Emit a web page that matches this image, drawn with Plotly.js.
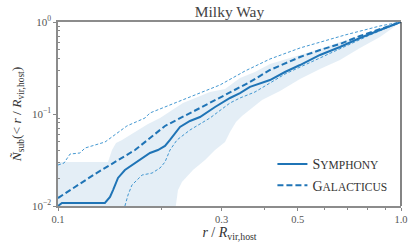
<!DOCTYPE html>
<html>
<head>
<meta charset="utf-8">
<script src="https://cdn.plot.ly/plotly-3.0.1.min.js"></script>
<style>html,body{margin:0;padding:0;background:#fff;}#plot{width:415px;height:249px;}</style>
</head>
<body>
<div id="plot"></div>
<script>
// Symphony median
const symR = [0.1, 0.1027, 0.137, 0.1418, 0.1447, 0.1496, 0.1567, 0.1677, 0.1793, 0.1854, 0.1956, 0.2051, 0.2121, 0.2268, 0.2425, 0.2594, 0.287, 0.3173, 0.3393, 0.3628, 0.415, 0.459, 0.5077, 0.5805, 0.6637, 0.7593, 0.8683, 1.0];
const symN = [0.0100, 0.0108, 0.0108, 0.01253, 0.0149, 0.0202, 0.0246, 0.0293, 0.0341, 0.0377, 0.0406, 0.0449, 0.0522, 0.0722, 0.0839, 0.0928, 0.1192, 0.1493, 0.169, 0.197, 0.234, 0.286, 0.3407, 0.438, 0.535, 0.670, 0.819, 1.0];

// Galacticus median
const galR = [0.1, 0.1282, 0.1677, 0.2051, 0.2594, 0.3628, 0.415, 0.5077, 0.5805, 0.6637, 0.7593, 0.8683, 1.0];
const galN = [0.0122, 0.0223, 0.0406, 0.0741, 0.1162, 0.2228, 0.301, 0.4164, 0.496, 0.5766, 0.7044, 0.839, 1.0];

// Galacticus upper percentile (thin dashed)
const galHiR = [0.1, 0.1041, 0.1084, 0.1159, 0.1199, 0.1256, 0.1371, 0.1588, 0.1793, 0.1854, 0.2051, 0.2594, 0.2968, 0.3509, 0.415, 0.5077, 0.5805, 0.6866, 0.8683, 1.0];
const galHiN = [0.0279, 0.0293, 0.0367, 0.0377, 0.0427, 0.0449, 0.0496, 0.0741, 0.0905, 0.1026, 0.1192, 0.169, 0.207, 0.2933, 0.396, 0.522, 0.606, 0.7222, 0.905, 1.0];

// Galacticus lower percentile (thin dashed)
const galLoR = [0.1567, 0.16, 0.1643, 0.1758, 0.188, 0.1984, 0.2051, 0.2121, 0.2223, 0.2425, 0.2774, 0.3173, 0.3393, 0.3752, 0.459, 0.5077, 0.6637, 0.8121, 1.0];
const galLoN = [0.0100, 0.01317, 0.0169, 0.0217, 0.0228, 0.0259, 0.0301, 0.0406, 0.0522, 0.067, 0.0905, 0.1317, 0.1493, 0.1734, 0.2721, 0.3243, 0.5086, 0.7222, 1.0];

// Symphony scatter band
const bandHiR = [0.1, 0.1399, 0.1437, 0.1476, 0.1537, 0.1677, 0.183, 0.1984, 0.2149, 0.2314, 0.2774, 0.3069, 0.3393, 0.3752, 0.415, 0.5077, 0.5805, 0.6637, 0.7593, 0.8683, 1.0];
const bandHiN = [0.0301, 0.0301, 0.0406, 0.0484, 0.0522, 0.0637, 0.0779, 0.0905, 0.1105, 0.1317, 0.173, 0.1869, 0.2462, 0.286, 0.3496, 0.438, 0.5086, 0.606, 0.7044, 0.839, 1.0];
const bandLoR = [0.1, 0.2149, 0.2238, 0.2298, 0.2475, 0.2683, 0.287, 0.3069, 0.3173, 0.3303, 0.3439, 0.3628, 0.3934, 0.4438, 0.4747, 0.5077, 0.5805, 0.6637, 0.7593, 0.8683, 1.0];
const bandLoN = [0.005, 0.005, 0.0149, 0.0182, 0.0246, 0.0316, 0.0406, 0.0496, 0.0637, 0.0818, 0.0951, 0.1105, 0.142, 0.1778, 0.207, 0.2401, 0.3084, 0.3863, 0.522, 0.687, 1.0];

const xTickVals = [0.1, 0.3, 0.5, 1.0];
const xTickText = ['0.1', '0.3', '0.5', '1.0'];
const yTickVals = [0.01, 0.1, 1];
const yTickText = ['10<sup>−2</sup>', '10<sup>−1</sup>', '10<sup>0</sup>'];

const xMinor = [];
for (let k = 2; k <= 9; k++) xMinor.push(k / 10);
const yMinor = [];
for (let d of [0.01, 0.1]) for (let k = 2; k <= 9; k++) yMinor.push(d * k);

const mainColor = '#1f74b6';
const thinColor = '#2f8ccc';
const serif = '"Liberation Serif", "DejaVu Serif", serif';

const traces = [
  {
    x: bandHiR.concat(bandLoR.slice().reverse()),
    y: bandHiN.concat(bandLoN.slice().reverse()),
    mode: 'lines', fill: 'toself', fillcolor: 'rgba(31,119,180,0.12)',
    line: {width: 0}, showlegend: false, hoverinfo: 'skip'
  },
  {
    x: galHiR, y: galHiN, mode: 'lines',
    line: {color: thinColor, width: 0.9, dash: '3px,2px'}, showlegend: false
  },
  {
    x: galLoR, y: galLoN, mode: 'lines',
    line: {color: thinColor, width: 0.9, dash: '3px,2px'}, showlegend: false
  },
  {
    x: symR, y: symN, mode: 'lines', name: 'S<span style="font-size:11.5px">YMPHONY</span>',
    line: {color: mainColor, width: 2}
  },
  {
    x: galR, y: galN, mode: 'lines', name: 'G<span style="font-size:11.5px">ALACTICUS</span>',
    line: {color: mainColor, width: 2, dash: '6px,3px'}
  }
];

const layout = {
  width: 415, height: 249,
  margin: {l: 58, r: 14, t: 22, b: 43},
  paper_bgcolor: '#ffffff', plot_bgcolor: '#ffffff',
  font: {family: serif, color: '#444'},
  title: {
    text: 'Milky Way', font: {family: serif, size: 15.5, color: '#444'},
    x: 0.5, xref: 'paper', y: 0.952, yref: 'container', yanchor: 'middle'
  },
  xaxis: {
    type: 'log', range: [-1, 0],
    tickmode: 'array', tickvals: xTickVals, ticktext: xTickText,
    ticks: 'outside', ticklen: 3, tickwidth: 1, tickcolor: '#888',
    minor: {tickmode: 'array', tickvals: xMinor, ticks: 'outside', ticklen: 2, tickcolor: '#888', showgrid: false},
    showgrid: false, zeroline: false,
    showline: true, linecolor: '#8c8c8c', linewidth: 1.6, mirror: true,
    tickfont: {family: serif, size: 10.5, color: '#555'},
    title: {text: '<i>r</i> / <i>R</i><sub>vir,host</sub>', font: {family: serif, size: 14, color: '#333'}, standoff: 3}
  },
  yaxis: {
    type: 'log', range: [-2, 0],
    tickmode: 'array', tickvals: yTickVals, ticktext: yTickText,
    ticks: 'outside', ticklen: 3, tickwidth: 1, tickcolor: '#888',
    minor: {tickmode: 'array', tickvals: yMinor, ticks: 'inside', ticklen: 2, tickcolor: '#888', showgrid: false},
    showgrid: false, zeroline: false,
    showline: true, linecolor: '#8c8c8c', linewidth: 1.6, mirror: false,
    tickfont: {family: serif, size: 11, color: '#555'},
    title: {text: '<i>Ñ</i><sub>sub</sub>(< <i>r</i> / <i>R</i><sub>vir,host</sub>)', font: {family: serif, size: 13.5, color: '#333'}, standoff: 7}
  },
  shapes: [
    {type: 'line', xref: 'paper', yref: 'paper', x0: 1, x1: 1, y0: 0, y1: 1, line: {color: '#333', width: 1.2}}
  ],
  legend: {
    x: 0.975, xanchor: 'right', y: 0.025, yanchor: 'bottom',
    bgcolor: 'rgba(0,0,0,0)', borderwidth: 0,
    font: {family: serif, size: 14, color: '#333'},
    tracegroupgap: 0
  },
  showlegend: true
};

Plotly.newPlot('plot', traces, layout, {staticPlot: true, displayModeBar: false});
</script>
</body>
</html>
